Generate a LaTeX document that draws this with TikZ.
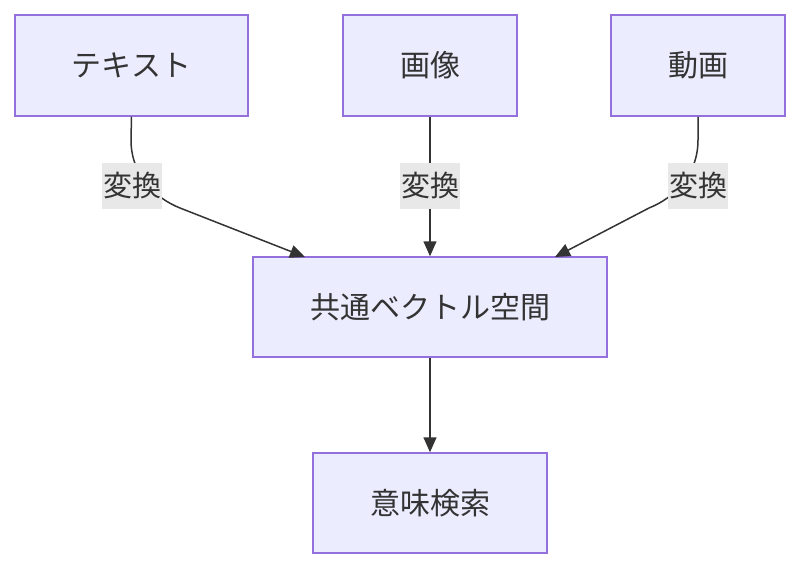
\documentclass[tikz,border=0pt]{standalone}
\usepackage{fontspec}
\setmainfont{Noto Sans CJK JP}
\usetikzlibrary{arrows.meta}
\definecolor{boxfill}{HTML}{ECECFF}
\definecolor{boxdraw}{HTML}{9370DB}
\definecolor{ink}{HTML}{333333}
\definecolor{lblbg}{HTML}{E8E8E8}
\tikzset{
  box/.style={draw=boxdraw, fill=boxfill, line width=1.5pt, inner sep=0pt,
    text=ink, font=\fontsize{30}{34}\selectfont},
  lbl/.style={fill=lblbg, inner sep=1pt, text=ink, minimum width=60pt, minimum height=46pt,
    font=\fontsize{29}{33}\selectfont},
  conn/.style={draw=ink, line width=1.5pt, -{Triangle[length=15pt,width=13pt]}},
}
\begin{document}
\begin{tikzpicture}[x=1pt,y=-1pt]
\useasboundingbox (0,0) rectangle (800,570);
\node[box, minimum width=233pt, minimum height=101pt] (txt) at (131.5,65.5) {テキスト};
\node[box, minimum width=174pt, minimum height=101pt] (img) at (430,65.5) {画像};
\node[box, minimum width=174pt, minimum height=101pt] (vid) at (698,65.5) {動画};
\node[box, minimum width=354pt, minimum height=100pt] (vec) at (430,307) {共通ベクトル空間};
\node[box, minimum width=234pt, minimum height=100pt] (sem) at (430,503) {意味検索};
\coordinate (tl) at (305,257);
\coordinate (tr) at (555,257);
\draw[conn] (txt.south) -- (131,140) .. controls (131,175) and (155,198) .. (180,208) -- (tl);
\draw[conn] (vid.south) -- (698,140) .. controls (698,175) and (674,198) .. (649,208) -- (tr);
\draw[conn] (img.south) -- (vec.north);
\draw[conn] (vec.south) -- (sem.north);
\node[lbl] (l1) at (132,186) {変換};
\node[lbl] (l2) at (430,186) {変換};
\node[lbl] (l3) at (698,186) {変換};
\end{tikzpicture}
\end{document}
